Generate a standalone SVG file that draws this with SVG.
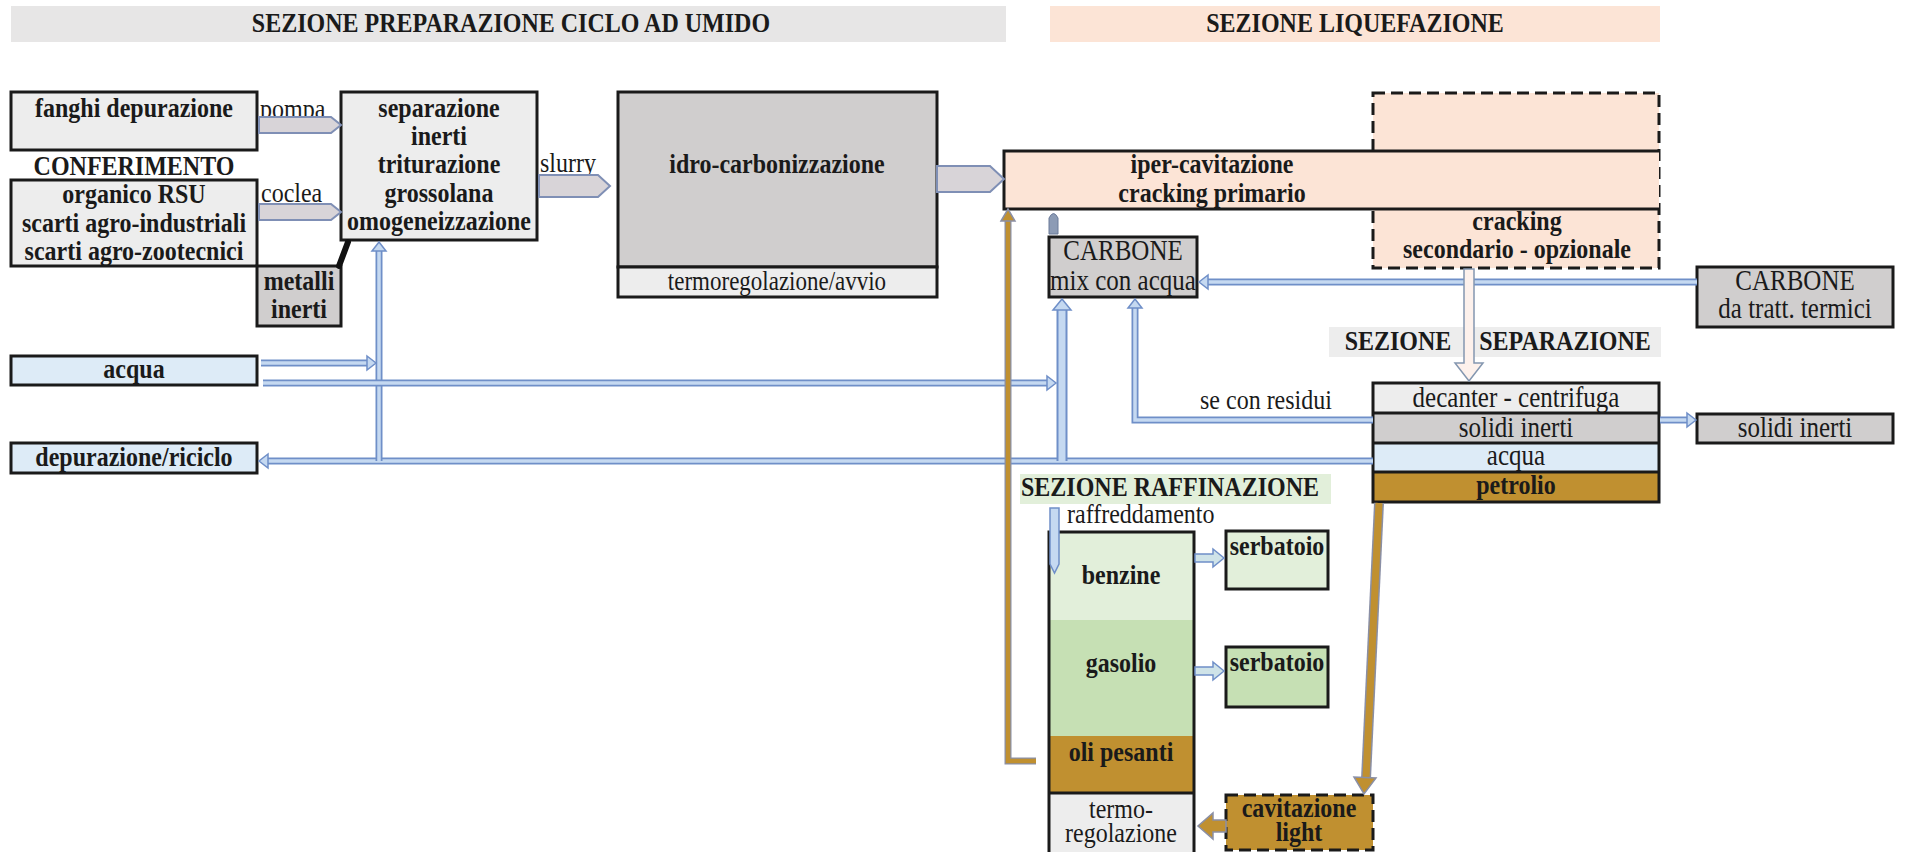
<svg xmlns="http://www.w3.org/2000/svg" width="1906" height="852" viewBox="0 0 1906 852">
<style>
text{font-family:"Liberation Serif","Times New Roman",serif;font-size:24px;fill:#1a1a1a;text-anchor:middle}
.b{font-weight:bold}
.s{text-anchor:start}
.box{stroke:#1a1a1a;stroke-width:3}
.dash{stroke:#1a1a1a;stroke-width:3;stroke-dasharray:12 6}
.lg{fill:#ededed}.g{fill:#d0cece}.pe{fill:#fce4d6}.bl{fill:#ddebf7}.br{fill:#c09030}.gl{fill:#e2efda}.gm{fill:#c6e0b4}
.wo{fill:none;stroke:#6f8fc8;stroke-width:7}
.wi{fill:none;stroke:#c5d9f1;stroke-width:3.5}
.wo2{fill:none;stroke:#6f8fc8;stroke-width:11}
.wi2{fill:none;stroke:#c5d9f1;stroke-width:7}
.ah{fill:#c5d9f1;stroke:#6f8fc8;stroke-width:1.5}
.bo{fill:none;stroke:#8a8fa5;stroke-width:7}
.bi{fill:none;stroke:#c09030;stroke-width:4.5}
.bah{fill:#c09030;stroke:#8a8fa5;stroke-width:1.5}
.blk{fill:#d8d4d8;stroke:#7f8fb5;stroke-width:2}
</style>

<g id="header-preparazione">
<rect x="11" y="6" width="995" height="36" fill="#e7e6e6"/>
<text class="b" x="511" y="32" transform="matrix(1 0 0 1.15 0 -4.8)">SEZIONE PREPARAZIONE CICLO AD UMIDO</text>
</g>
<g id="header-liquefazione">
<rect x="1050" y="6" width="610" height="36" fill="#fce4d6"/>
<text class="b" x="1355" y="32" transform="matrix(1 0 0 1.15 0 -4.8)">SEZIONE LIQUEFAZIONE</text>
</g>

<g id="fanghi">
<rect class="box lg" x="11" y="92" width="246" height="58"/>
<text class="b" x="134" y="117" transform="matrix(1 0 0 1.15 0 -17.55)">fanghi depurazione</text>
</g>
<g id="conferimento">
<text class="b" x="134" y="175" transform="matrix(1 0 0 1.15 0 -26.25)">CONFERIMENTO</text>
</g>
<g id="organico">
<rect class="box lg" x="11" y="180" width="246" height="86"/>
<text class="b" x="134" y="203" transform="matrix(1 0 0 1.15 0 -30.45)">organico RSU</text>
<text class="b" x="134" y="232" transform="matrix(1 0 0 1.15 0 -34.8)">scarti agro-industriali</text>
<text class="b" x="134" y="260" transform="matrix(1 0 0 1.15 0 -39)">scarti agro-zootecnici</text>
</g>
<g id="metalli">
<rect class="box g" x="257" y="266" width="84" height="60"/>
<text class="b" x="299" y="290" transform="matrix(1 0 0 1.15 0 -43.5)">metalli</text>
<text class="b" x="299" y="318" transform="matrix(1 0 0 1.15 0 -47.7)">inerti</text>
</g>
<g id="separazione">
<rect class="box lg" x="341" y="92" width="196" height="148"/>
<text class="b" x="439" y="117" transform="matrix(1 0 0 1.15 0 -17.55)">separazione</text>
<text class="b" x="439" y="145" transform="matrix(1 0 0 1.15 0 -21.75)">inerti</text>
<text class="b" x="439" y="173" transform="matrix(1 0 0 1.15 0 -25.95)">triturazione</text>
<text class="b" x="439" y="202" transform="matrix(1 0 0 1.15 0 -30.3)">grossolana</text>
<text class="b" x="439" y="230" transform="matrix(1 0 0 1.15 0 -34.5)">omogeneizzazione</text>
</g>
<g id="idro">
<rect class="box g" x="618" y="92" width="319" height="175"/>
<rect class="box lg" x="618" y="267" width="319" height="30"/>
<text class="b" x="777" y="173" transform="matrix(1 0 0 1.15 0 -25.95)">idro-carbonizzazione</text>
<text x="777" y="290" style="font-size:23px" transform="matrix(1 0 0 1.15 0 -43.5)">termoregolazione/avvio</text>
</g>
<g id="cracking-secondario">
<rect class="dash pe" x="1373" y="93" width="286" height="175"/>
<text class="b" x="1517" y="230" transform="matrix(1 0 0 1.15 0 -34.5)">cracking</text>
<text class="b" x="1517" y="258" transform="matrix(1 0 0 1.15 0 -38.7)">secondario - opzionale</text>
</g>
<g id="iper">
<rect class="pe" x="1004" y="151" width="655" height="58"/>
<path d="M1659,151 H1004 V209 H1659" fill="none" stroke="#1a1a1a" stroke-width="3"/>
<text class="b" x="1212" y="173" transform="matrix(1 0 0 1.15 0 -25.95)">iper-cavitazione</text>
<text class="b" x="1212" y="202" transform="matrix(1 0 0 1.15 0 -30.3)">cracking primario</text>
</g>
<g id="carbone-mix">
<rect class="box g" x="1049" y="237" width="148" height="60"/>
<text x="1123" y="260" style="font-size:25px" transform="matrix(1 0 0 1.15 0 -39)">CARBONE</text>
<text x="1123" y="290" style="font-size:25px" transform="matrix(1 0 0 1.15 0 -43.5)">mix con acqua</text>
</g>
<g id="carbone-termici">
<rect class="box g" x="1697" y="267" width="196" height="60"/>
<text x="1795" y="290" style="font-size:25px" transform="matrix(1 0 0 1.15 0 -43.5)">CARBONE</text>
<text x="1795" y="318" style="font-size:25px" transform="matrix(1 0 0 1.15 0 -47.7)">da tratt. termici</text>
</g>
<g id="header-separazione">
<rect x="1329" y="327" width="332" height="30" fill="#ededed"/>
<text class="b" x="1398" y="350" transform="matrix(1 0 0 1.15 0 -52.5)">SEZIONE</text>
<text class="b" x="1565" y="350" transform="matrix(1 0 0 1.15 0 -52.5)">SEPARAZIONE</text>
</g>
<g id="decanter">
<rect class="lg" x="1373" y="383" width="286" height="30"/>
<rect class="g" x="1373" y="413" width="286" height="30"/>
<rect class="bl" x="1373" y="443" width="286" height="29"/>
<rect class="br" x="1373" y="472" width="286" height="30"/>
<path d="M1373,413 H1659 M1373,443 H1659 M1373,472 H1659" stroke="#1a1a1a" stroke-width="3"/>
<rect x="1373" y="383" width="286" height="119" fill="none" stroke="#1a1a1a" stroke-width="3"/>
<text x="1516" y="407" style="font-size:25px" transform="matrix(1 0 0 1.15 0 -61.05)">decanter - centrifuga</text>
<text x="1516" y="437" style="font-size:25px" transform="matrix(1 0 0 1.15 0 -65.55)">solidi inerti</text>
<text x="1516" y="465" style="font-size:25px" transform="matrix(1 0 0 1.15 0 -69.75)">acqua</text>
<text class="b" x="1516" y="494" transform="matrix(1 0 0 1.15 0 -74.1)">petrolio</text>
</g>
<g id="solidi-inerti">
<rect class="box g" x="1697" y="414" width="196" height="29"/>
<text x="1795" y="437" style="font-size:25px" transform="matrix(1 0 0 1.15 0 -65.55)">solidi inerti</text>
</g>
<g id="acqua">
<rect class="box bl" x="11" y="356" width="246" height="29"/>
<text class="b" x="134" y="378" transform="matrix(1 0 0 1.15 0 -56.7)">acqua</text>
</g>
<g id="depurazione">
<rect class="box bl" x="11" y="443" width="246" height="30"/>
<text class="b" x="134" y="466" transform="matrix(1 0 0 1.15 0 -69.9)">depurazione/riciclo</text>
</g>
<g id="header-raffinazione">
<rect x="1020" y="474" width="311" height="30" fill="#e2efda"/>
<text class="b" x="1170" y="496" transform="matrix(1 0 0 1.15 0 -74.4)">SEZIONE RAFFINAZIONE</text>
</g>
<g id="raffreddamento">
<text class="s" x="1067" y="523" transform="matrix(1 0 0 1.15 0 -78.45)">raffreddamento</text>
</g>
<g id="colonna">
<rect class="gl" x="1049" y="532" width="145" height="88"/>
<rect class="gm" x="1049" y="620" width="145" height="116"/>
<rect class="br" x="1049" y="736" width="145" height="57"/>
<rect class="lg" x="1049" y="793" width="145" height="62"/>
<rect x="1049" y="532" width="145" height="323" fill="none" stroke="#1a1a1a" stroke-width="3"/>
<path d="M1049,793 H1194" stroke="#1a1a1a" stroke-width="3"/>
<text class="b" x="1121" y="584" transform="matrix(1 0 0 1.15 0 -87.6)">benzine</text>
<text class="b" x="1121" y="672" transform="matrix(1 0 0 1.15 0 -100.8)">gasolio</text>
<text class="b" x="1121" y="761" transform="matrix(1 0 0 1.15 0 -114.15)">oli pesanti</text>
<text x="1121" y="818" transform="matrix(1 0 0 1.15 0 -122.7)">termo-</text>
<text x="1121" y="842" transform="matrix(1 0 0 1.15 0 -126.3)">regolazione</text>
</g>
<g id="serbatoio-1">
<rect class="box gl" x="1226" y="531" width="102" height="58"/>
<text class="b" x="1277" y="555" transform="matrix(1 0 0 1.15 0 -83.25)">serbatoio</text>
</g>
<g id="serbatoio-2">
<rect class="box gm" x="1226" y="647" width="102" height="60"/>
<text class="b" x="1277" y="671" transform="matrix(1 0 0 1.15 0 -100.65)">serbatoio</text>
</g>
<g id="cavitazione-light">
<rect class="dash br" x="1226" y="795" width="147" height="55"/>
<text class="b" x="1299" y="817" transform="matrix(1 0 0 1.15 0 -122.55)">cavitazione</text>
<text class="b" x="1299" y="841" transform="matrix(1 0 0 1.15 0 -126.15)">light</text>
</g>

<g id="connectors">
<text class="s" x="260" y="118" transform="matrix(1 0 0 1.15 0 -17.7)">pompa</text>
<text class="s" x="261" y="202" transform="matrix(1 0 0 1.15 0 -30.3)">coclea</text>
<text class="s" x="540" y="172" transform="matrix(1 0 0 1.15 0 -25.8)">slurry</text>
<text class="s" x="1200" y="409" transform="matrix(1 0 0 1.15 0 -61.35)">se con residui</text>

<polygon class="blk" points="259,117 331,117 341,125 331,133 259,133"/>
<polygon class="blk" points="259,204 331,204 341,212 331,220 259,220"/>
<polygon class="blk" points="539,175 598,175 610,186 598,197 539,197"/>
<polygon class="blk" points="937,166 990,166 1004,179 990,192 937,192"/>
<path d="M348,242 L339,266" stroke="#111" stroke-width="6" stroke-linecap="round"/>

<path class="wo" d="M1373,461 H266"/><path class="wi" d="M1373,461 H266"/>
<polygon class="ah" points="268,454 259,461 268,468"/>
<path class="wo" d="M379,461 V250"/><path class="wi" d="M379,461 V250"/>
<polygon class="ah" points="372,251 379,242 386,251"/>
<path class="wo" d="M261,363 H368"/><path class="wi" d="M261,363 H368"/>
<polygon class="ah" points="367,356 376,363 367,370"/>
<path class="wo" d="M263,383 H1048"/><path class="wi" d="M263,383 H1048"/>
<polygon class="ah" points="1047,376 1056,383 1047,390"/>
<path class="wo2" d="M1062,461 V309"/><path class="wi2" d="M1062,461 V309"/>
<polygon class="ah" points="1053,310 1062,299 1071,310"/>
<path class="wo" d="M1373,420 H1135 V307"/><path class="wi" d="M1373,420 H1135 V307"/>
<polygon class="ah" points="1128,308 1135,299 1142,308"/>
<path class="wo" d="M1697,282 H1207"/><path class="wi" d="M1697,282 H1207"/>
<polygon class="ah" points="1208,275 1199,282 1208,289"/>
<path class="wo" d="M1660,420 H1688"/><path class="wi" d="M1660,420 H1688"/>
<polygon class="ah" points="1687,413 1696,420 1687,427"/>

<polygon points="1464,269 1474,269 1474,363 1483,363 1469,381 1455,363 1464,363" fill="#fdf1ec" stroke="#8497b0" stroke-width="1.5"/>

<path d="M1049,234 L1049,218 Q1053.5,209 1058,218 L1058,234 Z" fill="#8c9bb5" stroke="#6b7a99" stroke-width="1"/>
<path d="M1050,508 L1059,508 L1059,564 L1054.5,573 L1050,564 Z" fill="#c5d9f1" stroke="#6f8fc8" stroke-width="1.5"/>

<polygon points="1195,554 1213,554 1213,549 1224,558 1213,567 1213,562 1195,562" fill="#cfe3e8" stroke="#6f8fc8" stroke-width="1.5"/>
<polygon points="1195,667 1213,667 1213,662 1224,671 1213,680 1213,675 1195,675" fill="#cfe3e8" stroke="#6f8fc8" stroke-width="1.5"/>

<path class="bo" d="M1036,761 H1008 V220"/><path class="bi" d="M1036,761 H1008 V220"/>
<polygon class="bah" points="1001,221 1008,209 1015,221"/>
<path d="M1379,503 L1366,779" fill="none" stroke="#8a8fa5" stroke-width="10"/>
<path d="M1379,503 L1366,779" fill="none" stroke="#c09030" stroke-width="7"/>
<polygon class="bah" points="1354,777 1364,794 1376,778"/>
<polygon class="bah" points="1226,820 1213,820 1213,813 1198,826 1213,839 1213,832 1226,832"/>
</g>
</svg>
